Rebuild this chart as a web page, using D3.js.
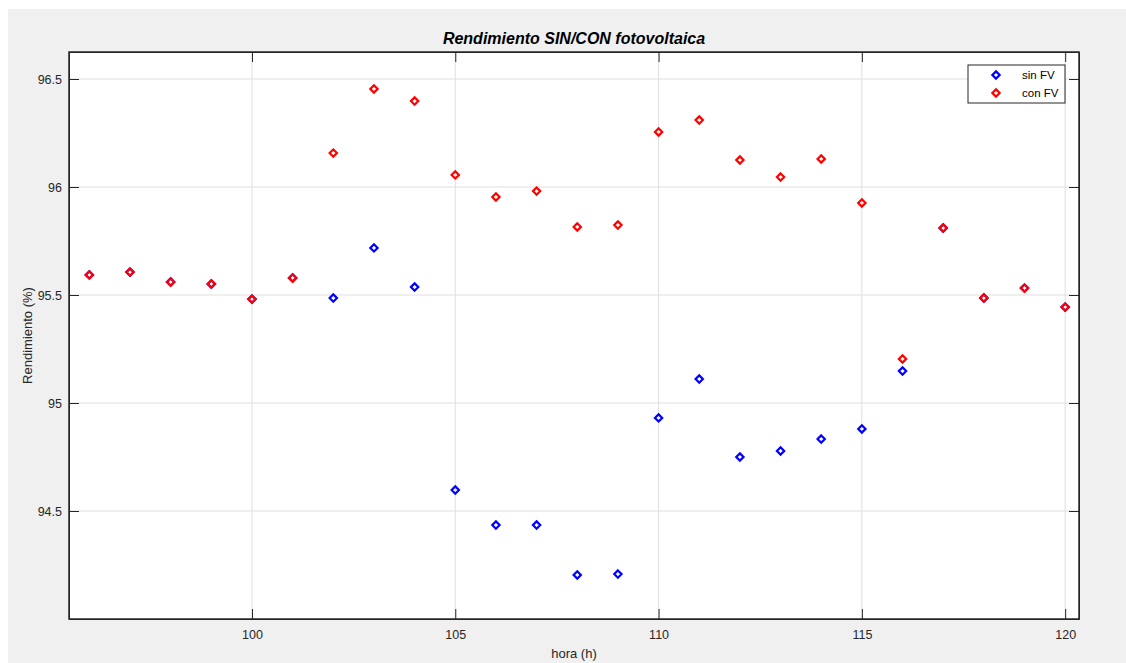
<!DOCTYPE html>
<html>
<head>
<meta charset="utf-8">
<script src="https://cdn.jsdelivr.net/npm/d3@7"></script>
<style>
  body { margin: 0; background: #fff; }
  svg text { font-family: "Liberation Sans", Arial, sans-serif; }
</style>
</head>
<body>
<div class="chart"></div>
<script>
var svgWidth = 1126;
var svgHeight = 663;

var margin = { top: 52, right: 47, bottom: 44, left: 69 };

var width = svgWidth - margin.left - margin.right;
var height = svgHeight - margin.top - margin.bottom;

// hours on the x axis
var horas = [96, 97, 98, 99, 100, 101, 102, 103, 104, 105, 106, 107, 108,
  109, 110, 111, 112, 113, 114, 115, 116, 117, 118, 119, 120];

// efficiency without PV (%)
var sinFV = [95.593, 95.606, 95.560, 95.551, 95.481, 95.579, 95.486, 95.718,
  95.537, 94.597, 94.435, 94.435, 94.204, 94.208, 94.931, 95.111, 94.750,
  94.778, 94.833, 94.880, 95.148, 95.810, 95.486, 95.532, 95.444];

// efficiency with PV (%)
var conFV = [95.593, 95.606, 95.560, 95.551, 95.481, 95.579, 96.157, 96.454,
  96.398, 96.056, 95.954, 95.981, 95.815, 95.824, 96.255, 96.310, 96.125,
  96.046, 96.130, 95.926, 95.204, 95.810, 95.486, 95.532, 95.444];

var xTicks = [100, 105, 110, 115, 120];
var yTicks = [94.5, 95, 95.5, 96, 96.5];

var svg = d3.select(".chart")
  .append("svg")
  .attr("width", svgWidth)
  .attr("height", svgHeight);

// figure background
svg.append("rect")
  .attr("x", 8).attr("y", 9)
  .attr("width", svgWidth - 8).attr("height", svgHeight - 9)
  .attr("fill", "#f0f0f0");

var chart = svg.append("g")
  .attr("transform", "translate(" + margin.left + "," + margin.top + ")");

var xScale = d3.scaleLinear().domain([95.5, 120.34]).range([0, width]);
var yScale = d3.scaleLinear().domain([94.0, 96.625]).range([height, 0]);

chart.append("rect")
  .attr("width", width).attr("height", height)
  .attr("fill", "#fff");

// grid
chart.append("g").selectAll("line").data(xTicks).enter().append("line")
  .attr("x1", function(d) { return xScale(d); })
  .attr("x2", function(d) { return xScale(d); })
  .attr("y1", 0).attr("y2", height)
  .attr("stroke", "#dfdfdf");
chart.append("g").selectAll("line").data(yTicks).enter().append("line")
  .attr("y1", function(d) { return yScale(d); })
  .attr("y2", function(d) { return yScale(d); })
  .attr("x1", 0).attr("x2", width)
  .attr("stroke", "#dfdfdf");

// axes (ticks inward, box on)
var tickLen = 10;
var fmt = d3.format("~g");
var bottomAxis = d3.axisBottom(xScale).tickValues(xTicks).tickSizeInner(-tickLen).tickSizeOuter(0).tickPadding(11).tickFormat(fmt);
var topAxis = d3.axisTop(xScale).tickValues(xTicks).tickSizeInner(-tickLen).tickSizeOuter(0).tickFormat("");
var leftAxis = d3.axisLeft(yScale).tickValues(yTicks).tickSizeInner(-tickLen).tickSizeOuter(0).tickPadding(7).tickFormat(fmt);
var rightAxis = d3.axisRight(yScale).tickValues(yTicks).tickSizeInner(-tickLen).tickSizeOuter(0).tickFormat("");

function styleAxis(g) {
  g.selectAll("path, line").attr("stroke", "#262626");
  g.selectAll("text").attr("fill", "#262626").style("font-size", "12.5px");
}

chart.append("g").attr("transform", "translate(0," + height + ")").call(bottomAxis).call(styleAxis);
chart.append("g").call(topAxis).call(styleAxis);
chart.append("g").call(leftAxis).call(styleAxis);
chart.append("g").attr("transform", "translate(" + width + ",0)").call(rightAxis).call(styleAxis);

// border box
chart.append("rect")
  .attr("width", width).attr("height", height)
  .attr("fill", "none").attr("stroke", "#262626").attr("stroke-width", 1.5);

// markers
var diamond = d3.symbol().type(d3.symbolDiamond2).size(34);

function drawSeries(values, color) {
  chart.append("g").selectAll("path").data(values).enter().append("path")
    .attr("d", diamond)
    .attr("transform", function(d, i) {
      return "translate(" + xScale(horas[i]) + "," + yScale(d) + ")";
    })
    .attr("fill", "none")
    .attr("stroke", color)
    .attr("stroke-width", 2.2);
}
drawSeries(sinFV, "#0000ff");
drawSeries(conFV, "#ff0000");

// title and labels
chart.append("text")
  .attr("x", width / 2).attr("y", -8)
  .attr("text-anchor", "middle")
  .style("font-size", "16px").style("font-weight", "bold").style("font-style", "italic")
  .attr("fill", "#000")
  .text("Rendimiento SIN/CON fotovoltaica");

chart.append("text")
  .attr("x", width / 2).attr("y", height + 39)
  .attr("text-anchor", "middle")
  .style("font-size", "13px").attr("fill", "#262626")
  .text("hora (h)");

chart.append("text")
  .attr("transform", "rotate(-90)")
  .attr("x", -height / 2).attr("y", -37)
  .attr("text-anchor", "middle")
  .style("font-size", "13px").attr("fill", "#262626")
  .text("Rendimiento (%)");

// legend
var legend = chart.append("g").attr("transform", "translate(" + (968 - margin.left) + "," + (65 - margin.top) + ")");
legend.append("rect")
  .attr("width", 97).attr("height", 38)
  .attr("fill", "#fff").attr("stroke", "#262626");
var legendItems = [{ name: "sin FV", color: "#0000ff" }, { name: "con FV", color: "#ff0000" }];
legendItems.forEach(function(item, i) {
  legend.append("path")
    .attr("d", diamond)
    .attr("transform", "translate(28," + (10 + i * 18) + ")")
    .attr("fill", "none").attr("stroke", item.color).attr("stroke-width", 2.2);
  legend.append("text")
    .attr("x", 54).attr("y", 10 + i * 18).attr("dy", "0.35em")
    .style("font-size", "11.5px").attr("fill", "#000")
    .text(item.name);
});
</script>
</body>
</html>
